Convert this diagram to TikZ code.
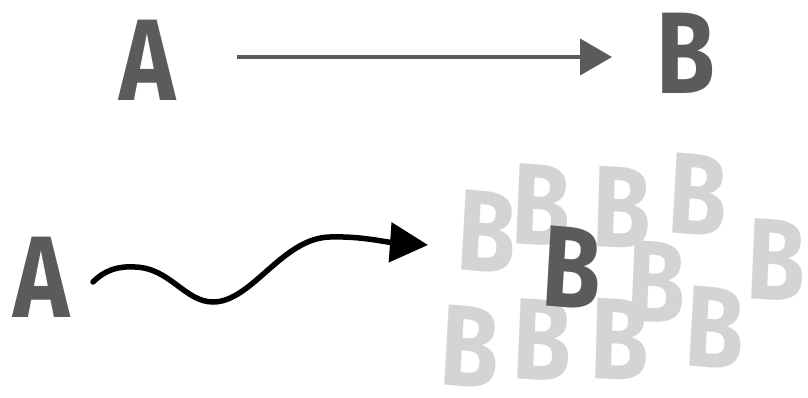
\documentclass[tikz,border=0pt]{standalone}
\usepackage{fontspec}
\newfontfamily\handfont{Fira Sans}
\usetikzlibrary{arrows.meta}
\definecolor{inkdark}{HTML}{5B5B5B}
\definecolor{inklight}{HTML}{D4D4D4}
\tikzset{
  letter/.style={inner sep=0pt, xscale=0.82, font=\handfont\bfseries\fontsize{116}{116}\selectfont},
  darkletter/.style={letter, text=inkdark},
  ghost/.style={letter, text=inklight},
  straightarrow/.style={draw=inkdark, line width=4.5pt, -{Triangle[length=32pt,width=36pt]}},
  wavyarrow/.style={draw=black, line width=5.5pt, line cap=round, -{Triangle[length=38pt,width=39pt]}}
}
\begin{document}
\begin{tikzpicture}[x=1pt,y=-1pt]
\useasboundingbox (0,0) rectangle (808,398);
% top row
\node[darkletter] (A1) at (148,60) {A};
\node[darkletter] (B1) at (686,53) {B};
\coordinate (s1) at (237,57);
\coordinate (t1) at (612,57);
\draw[straightarrow] (s1) -- (t1);
% bottom cluster of faded B's
\node[ghost, rotate=-4] (g1) at (487,232) {B};
\node[ghost, rotate=-3] (g2) at (542,205) {B};
\node[ghost, rotate=-2] (g3) at (622,208) {B};
\node[ghost, rotate=-4] (g4) at (698,195) {B};
\node[ghost, rotate=-3] (g5) at (777,260) {B};
\node[ghost, rotate=-3] (g6) at (657,282) {B};
\node[ghost, rotate=-4] (g7) at (715,328) {B};
\node[ghost, rotate=-2] (g8) at (620,340) {B};
\node[ghost, rotate=-3] (g9) at (543,340) {B};
\node[ghost, rotate=-4] (g10) at (470,347) {B};
\node[darkletter, rotate=-4] (B2) at (572,268) {B};
% bottom A and wavy arrow
\node[darkletter] (A2) at (42,277) {A};
\coordinate (w0) at (93,282);
\coordinate (w4) at (428,245);
\draw[wavyarrow] (w0) .. controls (105,270) and (118,266) .. (135,267)
  .. controls (170,268) and (185,302) .. (213,302)
  .. controls (252,302) and (282,238) .. (330,237)
  .. controls (360,236) and (385,242) .. (w4);
\end{tikzpicture}
\end{document}
